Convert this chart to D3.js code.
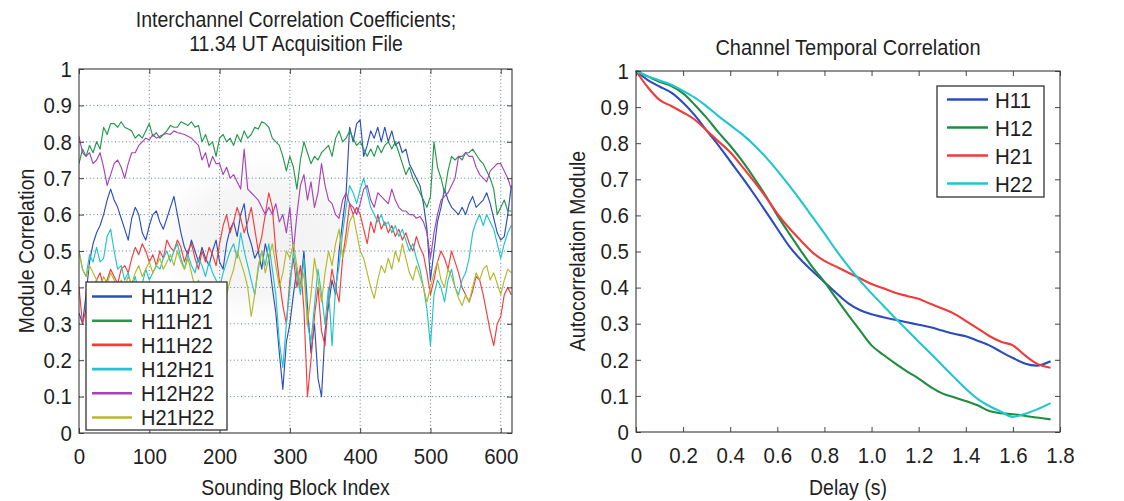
<!DOCTYPE html>
<html><head><meta charset="utf-8">
<script src="https://cdn.jsdelivr.net/npm/d3@7"></script>
<style>
body{margin:0;background:#fff}
svg{display:block}
text{font-family:"Liberation Sans",Arial,Helvetica,sans-serif;fill:#1f1f1f}
</style>
</head><body>
<svg id="c" width="1124" height="501"></svg>
<script>
// ---------- LEFT CHART DATA (sounding block index, step 5) ----------
const blockIndex = d3.range(0, 616, 5);
const H11H12 = [
0.33,0.30,0.38,0.47,0.52,0.55,0.57,0.60,0.64,0.67,
0.64,0.62,0.59,0.56,0.53,0.59,0.62,0.60,0.55,0.53,
0.57,0.60,0.61,0.58,0.56,0.59,0.62,0.65,0.60,0.55,
0.51,0.49,0.53,0.50,0.47,0.51,0.48,0.46,0.50,0.53,
0.47,0.45,0.52,0.56,0.58,0.54,0.60,0.63,0.55,0.52,
0.48,0.50,0.45,0.52,0.48,0.40,0.33,0.22,0.12,0.25,
0.30,0.38,0.45,0.40,0.50,0.35,0.22,0.30,0.15,0.10,
0.28,0.35,0.42,0.38,0.50,0.58,0.66,0.84,0.80,0.85,
0.86,0.76,0.79,0.83,0.81,0.84,0.80,0.84,0.80,0.83,
0.79,0.80,0.77,0.78,0.74,0.72,0.70,0.68,0.63,0.56,
0.42,0.50,0.58,0.62,0.67,0.64,0.62,0.61,0.60,0.62,
0.60,0.63,0.65,0.62,0.63,0.64,0.66,0.63,0.59,0.55,
0.53,0.54,0.60,0.68];
const H11H21 = [
0.74,0.78,0.76,0.79,0.77,0.80,0.78,0.84,0.82,0.85,
0.85,0.84,0.855,0.84,0.835,0.83,0.81,0.82,0.81,0.83,
0.85,0.815,0.825,0.81,0.82,0.83,0.845,0.84,0.84,0.855,
0.85,0.845,0.855,0.84,0.845,0.80,0.82,0.79,0.80,0.76,
0.81,0.82,0.80,0.81,0.79,0.82,0.80,0.83,0.81,0.82,
0.84,0.835,0.855,0.85,0.84,0.81,0.80,0.79,0.76,0.72,
0.76,0.73,0.67,0.75,0.80,0.77,0.74,0.76,0.75,0.77,
0.78,0.79,0.76,0.81,0.83,0.80,0.81,0.83,0.81,0.79,
0.80,0.78,0.76,0.78,0.76,0.79,0.77,0.79,0.80,0.78,
0.80,0.77,0.74,0.71,0.73,0.70,0.68,0.66,0.64,0.62,
0.65,0.80,0.73,0.70,0.66,0.72,0.76,0.75,0.76,0.75,
0.77,0.77,0.78,0.765,0.75,0.74,0.72,0.70,0.67,0.60,
0.62,0.64,0.61,0.61];
const H11H22 = [
0.40,0.30,0.34,0.38,0.40,0.42,0.44,0.40,0.42,0.45,
0.43,0.41,0.45,0.46,0.44,0.48,0.51,0.49,0.52,0.50,
0.47,0.49,0.46,0.50,0.48,0.53,0.51,0.50,0.53,0.51,
0.47,0.50,0.52,0.48,0.45,0.50,0.47,0.51,0.49,0.46,
0.52,0.57,0.60,0.55,0.58,0.62,0.59,0.55,0.58,0.62,
0.56,0.50,0.54,0.60,0.66,0.62,0.50,0.42,0.35,0.30,
0.42,0.48,0.40,0.46,0.34,0.10,0.20,0.32,0.40,0.28,
0.24,0.38,0.45,0.40,0.36,0.48,0.55,0.63,0.60,0.62,
0.60,0.56,0.52,0.58,0.55,0.60,0.56,0.58,0.55,0.57,
0.54,0.56,0.53,0.55,0.52,0.50,0.54,0.51,0.49,0.44,
0.38,0.42,0.47,0.50,0.48,0.45,0.50,0.47,0.44,0.40,
0.38,0.36,0.39,0.43,0.42,0.38,0.33,0.28,0.24,0.30,
0.32,0.38,0.40,0.38];
const H12H21 = [
0.50,0.45,0.43,0.49,0.47,0.51,0.47,0.48,0.54,0.56,
0.50,0.45,0.46,0.42,0.44,0.40,0.43,0.38,0.41,0.45,
0.42,0.44,0.46,0.45,0.48,0.50,0.47,0.50,0.52,0.48,
0.45,0.49,0.46,0.44,0.48,0.46,0.43,0.47,0.44,0.42,
0.40,0.44,0.47,0.50,0.52,0.48,0.55,0.50,0.46,0.42,
0.38,0.45,0.50,0.46,0.52,0.45,0.38,0.25,0.18,0.30,
0.40,0.50,0.44,0.38,0.48,0.30,0.25,0.35,0.45,0.38,
0.30,0.40,0.24,0.40,0.46,0.55,0.62,0.68,0.66,0.63,
0.67,0.70,0.66,0.62,0.60,0.58,0.60,0.57,0.58,0.55,
0.57,0.54,0.56,0.53,0.50,0.52,0.48,0.45,0.40,0.34,
0.24,0.38,0.42,0.40,0.36,0.42,0.45,0.40,0.38,0.42,
0.44,0.48,0.55,0.58,0.60,0.57,0.60,0.58,0.56,0.52,
0.48,0.52,0.55,0.57];
const H12H22 = [
0.815,0.77,0.76,0.77,0.74,0.75,0.77,0.73,0.68,0.71,
0.74,0.75,0.73,0.70,0.74,0.77,0.77,0.79,0.80,0.81,
0.805,0.82,0.81,0.815,0.82,0.823,0.82,0.83,0.825,0.823,
0.82,0.815,0.81,0.80,0.79,0.75,0.77,0.73,0.76,0.74,
0.74,0.71,0.73,0.70,0.71,0.69,0.67,0.78,0.67,0.66,
0.65,0.64,0.62,0.60,0.62,0.60,0.63,0.58,0.60,0.55,
0.62,0.50,0.60,0.68,0.71,0.64,0.69,0.62,0.66,0.74,
0.68,0.64,0.63,0.60,0.59,0.64,0.66,0.63,0.62,0.60,
0.63,0.67,0.68,0.64,0.62,0.66,0.65,0.64,0.63,0.67,
0.64,0.62,0.61,0.61,0.60,0.60,0.59,0.595,0.58,0.55,
0.48,0.55,0.60,0.64,0.65,0.66,0.68,0.70,0.76,0.76,
0.77,0.76,0.76,0.73,0.71,0.70,0.69,0.72,0.73,0.74,
0.74,0.72,0.70,0.67];
const H21H22 = [
0.50,0.45,0.43,0.46,0.44,0.42,0.40,0.43,0.41,0.44,
0.42,0.39,0.42,0.40,0.43,0.41,0.44,0.46,0.43,0.45,
0.47,0.44,0.46,0.48,0.45,0.47,0.49,0.46,0.50,0.47,
0.45,0.48,0.44,0.40,0.42,0.38,0.36,0.40,0.38,0.35,
0.37,0.34,0.38,0.42,0.45,0.50,0.47,0.44,0.40,0.32,
0.38,0.46,0.50,0.44,0.48,0.52,0.46,0.40,0.44,0.50,
0.48,0.52,0.46,0.40,0.44,0.30,0.38,0.48,0.42,0.36,
0.44,0.50,0.46,0.52,0.56,0.48,0.52,0.58,0.60,0.55,
0.50,0.48,0.44,0.40,0.37,0.42,0.46,0.44,0.48,0.45,
0.50,0.47,0.52,0.48,0.44,0.42,0.46,0.43,0.40,0.36,
0.40,0.44,0.47,0.42,0.40,0.45,0.43,0.40,0.37,0.35,
0.38,0.36,0.40,0.44,0.42,0.45,0.46,0.42,0.44,0.41,
0.38,0.42,0.45,0.44];
const leftNames = ["H11H12","H11H21","H11H22","H12H21","H12H22","H21H22"];
const leftColors = ["#2c50b8","#23994a","#f23d3d","#22c3cc","#a545b5","#b3b82e"];
const leftXTicks = [0,100,200,300,400,500,600];

// ---------- RIGHT CHART DATA ----------
const delay = [0,0.05,0.1,0.15,0.2,0.25,0.3,0.35,0.4,0.45,0.5,0.55,0.6,0.65,0.7,0.75,0.8,0.85,0.9,0.95,1.0,1.05,1.1,1.15,1.2,1.25,1.3,1.35,1.4,1.45,1.5,1.55,1.6,1.65,1.7,1.76];
const H11 = [1.0,0.975,0.957,0.94,0.912,0.877,0.835,0.794,0.75,0.706,0.66,0.612,0.563,0.515,0.477,0.445,0.415,0.385,0.357,0.338,0.326,0.318,0.311,0.304,0.297,0.29,0.281,0.272,0.265,0.253,0.24,0.222,0.205,0.19,0.184,0.196];
const H12 = [1.0,0.985,0.97,0.958,0.938,0.906,0.87,0.83,0.793,0.752,0.705,0.655,0.6,0.55,0.502,0.456,0.416,0.37,0.325,0.282,0.24,0.214,0.19,0.168,0.148,0.125,0.107,0.096,0.086,0.074,0.058,0.052,0.049,0.045,0.04,0.035];
const H21 = [1.0,0.955,0.92,0.903,0.885,0.865,0.835,0.805,0.775,0.736,0.695,0.652,0.605,0.565,0.53,0.497,0.474,0.458,0.442,0.426,0.41,0.398,0.386,0.377,0.369,0.355,0.342,0.328,0.308,0.287,0.266,0.25,0.24,0.213,0.19,0.178];
const H22 = [1.0,0.985,0.974,0.962,0.945,0.926,0.902,0.875,0.85,0.825,0.796,0.762,0.724,0.683,0.64,0.595,0.55,0.503,0.46,0.42,0.384,0.35,0.316,0.283,0.25,0.218,0.185,0.152,0.12,0.092,0.072,0.056,0.042,0.05,0.062,0.08];
const rightNames = ["H11","H12","H21","H22"];
const rightColors = ["#2a4cbc","#1f8d3f","#f23a3a","#1fc6cf"];
const rightXTicks = [0,0.2,0.4,0.6,0.8,1.0,1.2,1.4,1.6,1.8];
const rightXTickLabels = ["0","0.2","0.4","0.6","0.8","1.0","1.2","1.4","1.6","1.8"];
const yTicks = [0,0.1,0.2,0.3,0.4,0.5,0.6,0.7,0.8,0.9,1];
const yTickLabels = ["0","0.1","0.2","0.3","0.4","0.5","0.6","0.7","0.8","0.9","1"];

// ---------- DRAW ----------
const svg = d3.select("#c");
const FS = 19.5;      // titles
const FT = 20.5;      // tick labels
const FLG = 20;       // legend text
const SY = 1.1;       // the scanned figure's text is slightly taller than wide
const defs = svg.append("defs");

function label(g, x, y, str, opts = {}) {
  const t = g.append("g").attr("transform", `translate(${x},${y}) rotate(${opts.rot || 0}) scale(1,${SY})`)
    .append("text").attr("font-size", opts.fs || FS).attr("text-anchor", opts.anchor || "start").text(str);
  if (opts.dy) t.attr("dy", opts.dy);
  return t;
}

function grid(g, x, y, xt, yt) {
  const [x0, x1] = x.range(), [y0, y1] = y.range();
  g.append("g").selectAll("line").data(xt.filter(d => d > x.domain()[0] && d < x.domain()[1]))
    .join("line").attr("x1", d => x(d)).attr("x2", d => x(d)).attr("y1", y0).attr("y2", y1)
    .attr("stroke", "#5f7f8a").attr("stroke-width", 1).attr("stroke-dasharray", "1,2.6");
  g.append("g").selectAll("line").data(yt.filter(d => d > 0 && d < 1))
    .join("line").attr("y1", d => y(d)).attr("y2", d => y(d)).attr("x1", x0).attr("x2", x1)
    .attr("stroke", "#5f7f8a").attr("stroke-width", 1).attr("stroke-dasharray", "1,2.6");
}
function axes(g, x, y, xt, xl, yt, yl) {
  const [x0, x1] = x.range(), [y0, y1] = y.range();
  const ax = g.append("g").attr("transform", `translate(0,${y0})`)
    .call(d3.axisBottom(x).tickValues(xt).tickFormat((d, i) => xl[i]).tickSize(-5).tickPadding(14));
  const axT = g.append("g").attr("transform", `translate(0,${y1})`)
    .call(d3.axisTop(x).tickValues(xt).tickFormat("").tickSize(-5));
  const ay = g.append("g").attr("transform", `translate(${x0},0)`)
    .call(d3.axisLeft(y).tickValues(yt).tickFormat((d, i) => yl[i]).tickSize(-5).tickPadding(7));
  const ayR = g.append("g").attr("transform", `translate(${x1},0)`)
    .call(d3.axisRight(y).tickValues(yt).tickFormat("").tickSize(-5));
  [ax, axT, ay, ayR].forEach(a => {
    a.select(".domain").remove();
    a.selectAll("line").attr("stroke", "#444");
    a.selectAll("text").attr("font-size", FT).attr("fill", "#1f1f1f")
      .attr("transform", `scale(1,${SY})`)
      .style("font-family", '"Liberation Sans",Arial,sans-serif');
  });
  g.append("rect").attr("x", x0).attr("y", y1).attr("width", x1 - x0).attr("height", y0 - y1)
    .attr("fill", "none").attr("stroke", "#3a3a3a").attr("stroke-width", 1.1);
}

// Left chart
const xL = d3.scaleLinear().domain([0, 616]).range([79, 512]);
const yL = d3.scaleLinear().domain([0, 1]).range([433, 69]);
const gL = svg.append("g");
// faint grey smudge present in the scanned figure
const rg = defs.append("radialGradient").attr("id", "smudge");
rg.append("stop").attr("offset", "0%").attr("stop-color", "#f0f0f0").attr("stop-opacity", 1);
rg.append("stop").attr("offset", "60%").attr("stop-color", "#f4f4f4").attr("stop-opacity", 0.8);
rg.append("stop").attr("offset", "100%").attr("stop-color", "#ffffff").attr("stop-opacity", 0);
gL.append("ellipse").attr("cx", 265).attr("cy", 240).attr("rx", 130).attr("ry", 95).attr("fill", "url(#smudge)");
grid(gL, xL, yL, leftXTicks, yTicks);
defs.append("clipPath").attr("id", "clipL").append("rect").attr("x", 79).attr("y", 69).attr("width", 433).attr("height", 364);
const leftSeries = [H11H12, H11H21, H11H22, H12H21, H12H22, H21H22];
const lineL = vals => d3.line().x((d, i) => xL(blockIndex[i])).y(d => yL(d))(vals);
gL.append("g").attr("clip-path", "url(#clipL)").selectAll("path").data(leftSeries).join("path")
  .attr("d", d => lineL(d)).attr("fill", "none").attr("stroke", (d, i) => leftColors[i])
  .attr("stroke-width", 1.15).attr("stroke-linejoin", "round");
axes(gL, xL, yL, leftXTicks, leftXTicks.map(String), yTicks, yTickLabels);
// legend
const legL = gL.append("g");
legL.append("rect").attr("x", 86).attr("y", 282).attr("width", 141).attr("height", 148)
  .attr("fill", "#fff").attr("stroke", "#333").attr("stroke-width", 1.3);
leftNames.forEach((n, i) => {
  const yy = 296.5 + i * 24.2;
  legL.append("line").attr("x1", 92).attr("x2", 132).attr("y1", yy).attr("y2", yy)
    .attr("stroke", leftColors[i]).attr("stroke-width", 2.6);
  label(legL, 141, yy, n, {dy: "0.36em", fs: FLG});
});
label(gL, 296, 26.5, "Interchannel Correlation Coefficients;", {anchor: "middle"});
label(gL, 296, 50.5, "11.34 UT Acquisition File", {anchor: "middle"});
label(gL, 295.5, 495, "Sounding Block Index", {anchor: "middle"});
label(gL, 33.5, 251, "Module Correlation", {anchor: "middle", rot: -90});

// Right chart
const xR = d3.scaleLinear().domain([0, 1.8]).range([636, 1060]);
const yR = d3.scaleLinear().domain([0, 1]).range([432, 71]);
const gR = svg.append("g");
const rightSeries = [H11, H12, H21, H22];
const lineR = vals => d3.line().x((d, i) => xR(delay[i])).y(d => yR(d)).curve(d3.curveMonotoneX)(vals);
gR.append("g").selectAll("path").data(rightSeries).join("path")
  .attr("d", d => lineR(d)).attr("fill", "none").attr("stroke", (d, i) => rightColors[i])
  .attr("stroke-width", 2.1).attr("stroke-linejoin", "round");
axes(gR, xR, yR, rightXTicks, rightXTickLabels, yTicks, yTickLabels);
const legR = gR.append("g");
legR.append("rect").attr("x", 937).attr("y", 86).attr("width", 107).attr("height", 111)
  .attr("fill", "#fff").attr("stroke", "#333").attr("stroke-width", 1.3);
rightNames.forEach((n, i) => {
  const yy = 99.5 + i * 28;
  legR.append("line").attr("x1", 947).attr("x2", 988).attr("y1", yy).attr("y2", yy)
    .attr("stroke", rightColors[i]).attr("stroke-width", 2.6);
  label(legR, 995, yy, n, {dy: "0.36em", fs: FT});
});
label(gR, 848, 55, "Channel Temporal Correlation", {anchor: "middle", fs: FS + 0.5});
label(gR, 848, 495, "Delay (s)", {anchor: "middle"});
label(gR, 585, 251, "Autocorrelation Module", {anchor: "middle", rot: -90});
</script>
</body></html>
